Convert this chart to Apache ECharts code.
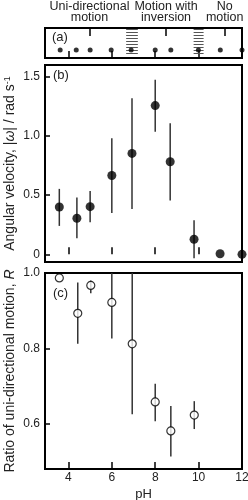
<!DOCTYPE html>
<html>
<head>
<meta charset="utf-8">
<script src="https://cdn.jsdelivr.net/npm/echarts@6/dist/echarts.min.js"></script>
<style>
html, body { margin: 0; padding: 0; background: #fff; }
#chart { width: 248px; height: 500px; }
</style>
</head>
<body>
<div id="chart"></div>
<script>
var phA = [3.62, 4.36, 5.0, 5.97, 6.89, 8.0, 8.72, 9.99, 11.0, 12.0];
var hatchRanges = [[6.66, 7.2], [9.77, 10.23]];
var regionTicks = [4.97, 8.5, 11.2];
var regionNames = ['Uni-directional\nmotion', 'Motion with\ninversion', 'No\nmotion'];

var phB = [3.58, 4.39, 5.0, 6.0, 6.93, 8.0, 8.69, 9.79, 10.99, 12.0];
var omega = [0.40, 0.305, 0.403, 0.666, 0.853, 1.257, 0.782, 0.127, 0.005, 0.0];
var omegaLo = [0.24, 0.135, 0.27, 0.35, 0.384, 1.036, 0.454, -0.034, 0.005, 0.0];
var omegaHi = [0.553, 0.48, 0.536, 0.98, 1.32, 1.475, 1.107, 0.288, 0.005, 0.0];

var phC = [3.58, 4.43, 5.03, 6.0, 6.94, 8.0, 8.72, 9.8];
var ratio = [0.987, 0.893, 0.967, 0.922, 0.812, 0.658, 0.581, 0.623];
var ratioLo = [0.987, 0.812, 0.946, 0.826, 0.625, 0.607, 0.513, 0.586];
var ratioHi = [0.987, 0.975, 0.98, 1.05, 1.05, 0.706, 0.647, 0.66];

var xTicks = [4, 6, 8, 10, 12];
var yTicksB = [0, 0.5, 1.0, 1.5];
var yTicksC = [0.6, 0.8, 1.0];

var FONT = 'Liberation Sans';

function zip3(x, lo, hi) {
	var out = [];
	for (var i = 0; i < x.length; i++) out.push([x[i], lo[i], hi[i]]);
	return out;
}
function zip2(x, y) {
	var out = [];
	for (var i = 0; i < x.length; i++) out.push([x[i], y[i]]);
	return out;
}

// 误差线
function errorBar(params, api) {
	var p1 = api.coord([api.value(0), api.value(1)]);
	var p2 = api.coord([api.value(0), api.value(2)]);
	return {
		type : 'line',
		shape : { x1 : p1[0], y1 : p1[1], x2 : p2[0], y2 : p2[1] },
		style : { stroke : '#333', lineWidth : 1.5 }
	};
}

// 阴影条纹
function hatch(params, api) {
	var children = [];
	for (var k = 0; k < 9; k++) {
		var yv = 0.15 + k * 0.1;
		var a = api.coord([api.value(0), yv]);
		var b = api.coord([api.value(1), yv]);
		children.push({
			type : 'line',
			shape : { x1 : a[0], y1 : a[1], x2 : b[0], y2 : b[1] },
			style : { stroke : '#555', lineWidth : 1 }
		});
	}
	return { type : 'group', children : children };
}

var tickStyle = { color : '#000', width : 1.5 };

function xAxisFor(gi, withLabels) {
	return {
		type : 'value', gridIndex : gi, min : 2.92, max : 12,
		axisLine : { show : false },
		splitLine : { show : false },
		axisTick : { inside : true, length : 7, lineStyle : tickStyle, customValues : xTicks },
		axisLabel : {
			show : withLabels, customValues : xTicks, margin : 3,
			color : '#222', fontSize : 12, fontFamily : FONT
		},
		name : withLabels ? 'pH' : '',
		nameLocation : 'middle', nameGap : 19, nameMoveOverlap : false,
		nameTextStyle : { color : '#222', fontSize : 13, fontFamily : FONT }
	};
}

function yAxisFor(gi, min, max, ticks, name, fmt) {
	return {
		type : 'value', gridIndex : gi, min : min, max : max,
		axisLine : { show : false },
		splitLine : { show : false },
		axisTick : { inside : true, length : 5, lineStyle : tickStyle, customValues : ticks },
		axisLabel : {
			customValues : ticks, margin : 5, color : '#222', fontSize : 12, fontFamily : FONT,
			formatter : fmt
		},
		name : name, nameLocation : 'middle', nameGap : 28, nameMoveOverlap : false,
		nameTextStyle : {
			color : '#222', fontSize : 14, fontFamily : FONT,
			rich : {
				i : { fontStyle : 'italic', fontSize : 14, fontFamily : FONT, color : '#222' },
				s : { fontSize : 9, fontFamily : FONT, color : '#222', verticalAlign : 'top' }
			}
		}
	};
}

function gridAt(top, height) {
	return {
		left : 45, right : 6, top : top, height : height, show : true,
		borderColor : '#000', borderWidth : 2,
		containLabel : false, outerBoundsMode : 'none'
	};
}

var chart = echarts.init(document.getElementById('chart'));

var option = {
	animation : false,
	backgroundColor : '#fff',
	grid : [ gridAt(28, 30), gridAt(65, 197), gridAt(273, 196) ],
	xAxis : [
		xAxisFor(0, false),
		xAxisFor(1, false),
		xAxisFor(2, true),
		{
			type : 'value', gridIndex : 0, min : 2.92, max : 12, position : 'top',
			axisLine : { show : false }, splitLine : { show : false },
			axisTick : { inside : true, length : 8, lineStyle : tickStyle, customValues : regionTicks },
			axisLabel : {
				customValues : regionTicks, margin : 5, color : '#222', fontSize : 12.5,
				fontFamily : FONT, lineHeight : 11,
				formatter : function(v) {
					var i = regionTicks.indexOf(v);
					return i >= 0 ? regionNames[i] : '';
				}
			}
		}
	],
	yAxis : [
		{ type : 'value', gridIndex : 0, min : 0, max : 1, show : false },
		yAxisFor(1, -0.065, 1.6, yTicksB, 'Angular velocity, |{i|ω}| / rad s{s|-1}', function(v) {
			return v === 0 ? '0' : v.toFixed(1);
		}),
		yAxisFor(2, 0.48, 1.0, yTicksC, 'Ratio of uni-directional motion, {i|R}', function(v) {
			return v.toFixed(1);
		})
	],
	graphic : [
		{ type : 'text', left : 52, top : 31, style : { text : '(a)', fontSize : 13, fontFamily : FONT, fill : '#222' } },
		{ type : 'text', left : 53, top : 69, style : { text : '(b)', fontSize : 13, fontFamily : FONT, fill : '#222' } },
		{ type : 'text', left : 53, top : 287, style : { text : '(c)', fontSize : 13, fontFamily : FONT, fill : '#222' } }
	],
	series : [
		{
			type : 'custom', xAxisIndex : 0, yAxisIndex : 0, renderItem : hatch,
			data : hatchRanges, z : 1
		},
		{
			type : 'scatter', xAxisIndex : 0, yAxisIndex : 0, symbolSize : 5,
			itemStyle : { color : '#000' }, data : zip2(phA, phA.map(function() { return 0.27; })), z : 3
		},
		{
			type : 'custom', xAxisIndex : 1, yAxisIndex : 1, renderItem : errorBar,
			data : zip3(phB, omegaLo, omegaHi), z : 1
		},
		{
			type : 'scatter', xAxisIndex : 1, yAxisIndex : 1, symbolSize : 9,
			itemStyle : { color : '#000' }, data : zip2(phB, omega), z : 3
		},
		{
			type : 'custom', xAxisIndex : 2, yAxisIndex : 2, renderItem : errorBar, clip : true,
			data : zip3(phC, ratioLo, ratioHi), z : 1
		},
		{
			type : 'scatter', xAxisIndex : 2, yAxisIndex : 2, symbolSize : 8,
			itemStyle : { color : '#fff', borderColor : '#000', borderWidth : 1.2 },
			data : zip2(phC, ratio), z : 3
		}
	]
};

chart.setOption(option);
</script>
</body>
</html>
